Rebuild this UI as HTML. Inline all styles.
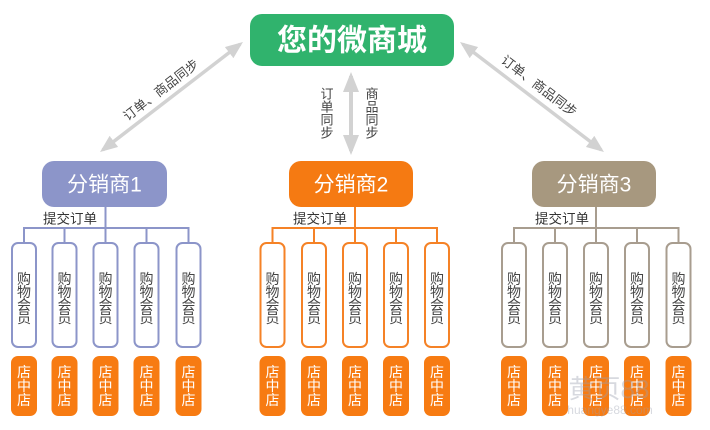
<!DOCTYPE html>
<html><head><meta charset="utf-8">
<style>
html,body{margin:0;padding:0;background:#fff;}
svg{display:block;}
text{font-family:"Liberation Sans","Noto Sans CJK SC",sans-serif;}
</style></head>
<body>
<svg width="710" height="430" viewBox="0 0 710 430" xmlns="http://www.w3.org/2000/svg">
<rect width="710" height="430" fill="#fff"/>
<defs>
<marker id="ah" markerWidth="5" markerHeight="4" refX="4" refY="2" orient="auto-start-reverse" markerUnits="strokeWidth">
<path d="M0,0 L5,2 L0,4 Z" fill="#d2d2d2"/>
</marker>
</defs>

<!-- top box -->
<rect x="250" y="14" width="204" height="52" rx="12" fill="#30b36d"/>
<text x="352" y="41" font-size="30" font-weight="bold" fill="#fff" text-anchor="middle" dominant-baseline="central">您的微商城</text>

<!-- arrows -->
<line x1="351" y1="76" x2="351" y2="151" stroke="#d2d2d2" stroke-width="4" marker-start="url(#ah)" marker-end="url(#ah)"/>
<line x1="240.2" y1="44.1" x2="102.8" y2="149.9" stroke="#d2d2d2" stroke-width="3.5" marker-start="url(#ah)" marker-end="url(#ah)"/>
<line x1="462.8" y1="44.1" x2="601.2" y2="149.9" stroke="#d2d2d2" stroke-width="3.5" marker-start="url(#ah)" marker-end="url(#ah)"/>

<!-- vertical labels -->
<g font-size="13" fill="#444" text-anchor="middle" dominant-baseline="central">
<text x="327" y="94">订</text><text x="327" y="107">单</text><text x="327" y="120">同</text><text x="327" y="133">步</text>
<text x="372" y="94">商</text><text x="372" y="107">品</text><text x="372" y="120">同</text><text x="372" y="133">步</text>
</g>
<text x="161" y="90" font-size="13" fill="#444" text-anchor="middle" dominant-baseline="central" transform="rotate(-37.6 161 90)">订单、商品同步</text>
<text x="539" y="86" font-size="13" fill="#444" text-anchor="middle" dominant-baseline="central" transform="rotate(37.4 539 86)">订单、商品同步</text>

<!-- distributors -->
<rect x="42" y="161" width="125" height="46" rx="12" fill="#8c95c9"/>
<text x="104.5" y="185" font-size="21" fill="#fff" text-anchor="middle" dominant-baseline="central">分销商1</text>
<rect x="289" y="161" width="124" height="46" rx="12" fill="#f57a12"/>
<text x="351" y="185" font-size="21" fill="#fff" text-anchor="middle" dominant-baseline="central">分销商2</text>
<rect x="532" y="161" width="124" height="46" rx="12" fill="#a7987f"/>
<text x="594" y="185" font-size="21" fill="#fff" text-anchor="middle" dominant-baseline="central">分销商3</text>

<!-- submit labels -->
<g font-size="13.5" fill="#333" dominant-baseline="central">
<text x="43" y="219">提交订单</text>
<text x="293" y="219">提交订单</text>
<text x="535" y="219">提交订单</text>
</g>

<!-- connectors group1 -->
<g stroke="#8c95c9" stroke-width="2" fill="none">
<line x1="105.5" y1="207" x2="105.5" y2="228"/>
<line x1="24" y1="228" x2="188.5" y2="228"/>
<line x1="24" y1="227" x2="24" y2="243"/><line x1="64.5" y1="227" x2="64.5" y2="243"/><line x1="105.5" y1="227" x2="105.5" y2="243"/><line x1="146.5" y1="227" x2="146.5" y2="243"/><line x1="188.5" y1="227" x2="188.5" y2="243"/>
<rect x="12" y="243" width="24" height="104" rx="6"/>
<rect x="52.5" y="243" width="24" height="104" rx="6"/>
<rect x="93.5" y="243" width="24" height="104" rx="6"/>
<rect x="134.5" y="243" width="24" height="104" rx="6"/>
<rect x="176.5" y="243" width="24" height="104" rx="6"/>
</g>
<!-- connectors group2 -->
<g stroke="#f58226" stroke-width="2" fill="none">
<line x1="355" y1="207" x2="355" y2="228"/>
<line x1="272.5" y1="228" x2="437" y2="228"/>
<line x1="272.5" y1="227" x2="272.5" y2="243"/><line x1="314" y1="227" x2="314" y2="243"/><line x1="355" y1="227" x2="355" y2="243"/><line x1="396" y1="227" x2="396" y2="243"/><line x1="437" y1="227" x2="437" y2="243"/>
<rect x="260.5" y="243" width="24" height="104" rx="6"/>
<rect x="302" y="243" width="24" height="104" rx="6"/>
<rect x="343" y="243" width="24" height="104" rx="6"/>
<rect x="384" y="243" width="24" height="104" rx="6"/>
<rect x="425" y="243" width="24" height="104" rx="6"/>
</g>
<!-- connectors group3 -->
<g stroke="#a89d8f" stroke-width="2" fill="none">
<line x1="596" y1="207" x2="596" y2="228"/>
<line x1="514" y1="228" x2="678.5" y2="228"/>
<line x1="514" y1="227" x2="514" y2="243"/><line x1="555" y1="227" x2="555" y2="243"/><line x1="596" y1="227" x2="596" y2="243"/><line x1="637" y1="227" x2="637" y2="243"/><line x1="678.5" y1="227" x2="678.5" y2="243"/>
<rect x="502" y="243" width="24" height="104" rx="6"/>
<rect x="543" y="243" width="24" height="104" rx="6"/>
<rect x="584" y="243" width="24" height="104" rx="6"/>
<rect x="625" y="243" width="24" height="104" rx="6"/>
<rect x="666.5" y="243" width="24" height="104" rx="6"/>
</g>

<!-- orange shop boxes -->
<g fill="#f77b12">
<rect x="11" y="356" width="26" height="60" rx="7"/><rect x="51.5" y="356" width="26" height="60" rx="7"/><rect x="92.5" y="356" width="26" height="60" rx="7"/><rect x="133.5" y="356" width="26" height="60" rx="7"/><rect x="175.5" y="356" width="26" height="60" rx="7"/>
<rect x="259.5" y="356" width="26" height="60" rx="7"/><rect x="301" y="356" width="26" height="60" rx="7"/><rect x="342" y="356" width="26" height="60" rx="7"/><rect x="383" y="356" width="26" height="60" rx="7"/><rect x="424" y="356" width="26" height="60" rx="7"/>
<rect x="501" y="356" width="26" height="60" rx="7"/><rect x="542" y="356" width="26" height="60" rx="7"/><rect x="583" y="356" width="26" height="60" rx="7"/><rect x="624" y="356" width="26" height="60" rx="7"/><rect x="665.5" y="356" width="26" height="60" rx="7"/>
</g>

<!-- member text -->
<g font-size="14" fill="#444" text-anchor="middle" dominant-baseline="central">
<g><text x="24" y="279">购</text><text x="24" y="292">物</text><text x="24" y="305">会</text><text x="24" y="318">员</text></g>
<g transform="translate(40.5 0)"><text x="24" y="279">购</text><text x="24" y="292">物</text><text x="24" y="305">会</text><text x="24" y="318">员</text></g>
<g transform="translate(81.5 0)"><text x="24" y="279">购</text><text x="24" y="292">物</text><text x="24" y="305">会</text><text x="24" y="318">员</text></g>
<g transform="translate(122.5 0)"><text x="24" y="279">购</text><text x="24" y="292">物</text><text x="24" y="305">会</text><text x="24" y="318">员</text></g>
<g transform="translate(164.5 0)"><text x="24" y="279">购</text><text x="24" y="292">物</text><text x="24" y="305">会</text><text x="24" y="318">员</text></g>
<g transform="translate(248.5 0)"><text x="24" y="279">购</text><text x="24" y="292">物</text><text x="24" y="305">会</text><text x="24" y="318">员</text></g>
<g transform="translate(290 0)"><text x="24" y="279">购</text><text x="24" y="292">物</text><text x="24" y="305">会</text><text x="24" y="318">员</text></g>
<g transform="translate(331 0)"><text x="24" y="279">购</text><text x="24" y="292">物</text><text x="24" y="305">会</text><text x="24" y="318">员</text></g>
<g transform="translate(372 0)"><text x="24" y="279">购</text><text x="24" y="292">物</text><text x="24" y="305">会</text><text x="24" y="318">员</text></g>
<g transform="translate(413 0)"><text x="24" y="279">购</text><text x="24" y="292">物</text><text x="24" y="305">会</text><text x="24" y="318">员</text></g>
<g transform="translate(490 0)"><text x="24" y="279">购</text><text x="24" y="292">物</text><text x="24" y="305">会</text><text x="24" y="318">员</text></g>
<g transform="translate(531 0)"><text x="24" y="279">购</text><text x="24" y="292">物</text><text x="24" y="305">会</text><text x="24" y="318">员</text></g>
<g transform="translate(572 0)"><text x="24" y="279">购</text><text x="24" y="292">物</text><text x="24" y="305">会</text><text x="24" y="318">员</text></g>
<g transform="translate(613 0)"><text x="24" y="279">购</text><text x="24" y="292">物</text><text x="24" y="305">会</text><text x="24" y="318">员</text></g>
<g transform="translate(654.5 0)"><text x="24" y="279">购</text><text x="24" y="292">物</text><text x="24" y="305">会</text><text x="24" y="318">员</text></g>
</g>

<!-- shop text -->
<g font-size="14" fill="#fff" text-anchor="middle" dominant-baseline="central">
<g><text x="24" y="372">店</text><text x="24" y="386">中</text><text x="24" y="400">店</text></g>
<g transform="translate(40.5 0)"><text x="24" y="372">店</text><text x="24" y="386">中</text><text x="24" y="400">店</text></g>
<g transform="translate(81.5 0)"><text x="24" y="372">店</text><text x="24" y="386">中</text><text x="24" y="400">店</text></g>
<g transform="translate(122.5 0)"><text x="24" y="372">店</text><text x="24" y="386">中</text><text x="24" y="400">店</text></g>
<g transform="translate(164.5 0)"><text x="24" y="372">店</text><text x="24" y="386">中</text><text x="24" y="400">店</text></g>
<g transform="translate(248.5 0)"><text x="24" y="372">店</text><text x="24" y="386">中</text><text x="24" y="400">店</text></g>
<g transform="translate(290 0)"><text x="24" y="372">店</text><text x="24" y="386">中</text><text x="24" y="400">店</text></g>
<g transform="translate(331 0)"><text x="24" y="372">店</text><text x="24" y="386">中</text><text x="24" y="400">店</text></g>
<g transform="translate(372 0)"><text x="24" y="372">店</text><text x="24" y="386">中</text><text x="24" y="400">店</text></g>
<g transform="translate(413 0)"><text x="24" y="372">店</text><text x="24" y="386">中</text><text x="24" y="400">店</text></g>
<g transform="translate(490 0)"><text x="24" y="372">店</text><text x="24" y="386">中</text><text x="24" y="400">店</text></g>
<g transform="translate(531 0)"><text x="24" y="372">店</text><text x="24" y="386">中</text><text x="24" y="400">店</text></g>
<g transform="translate(572 0)"><text x="24" y="372">店</text><text x="24" y="386">中</text><text x="24" y="400">店</text></g>
<g transform="translate(613 0)"><text x="24" y="372">店</text><text x="24" y="386">中</text><text x="24" y="400">店</text></g>
<g transform="translate(654.5 0)"><text x="24" y="372">店</text><text x="24" y="386">中</text><text x="24" y="400">店</text></g>
</g>

<!-- watermark -->
<text x="609" y="389" font-size="26" fill="#9aa0b0" fill-opacity="0.4" text-anchor="middle" dominant-baseline="central">黄页88</text>
<text x="610" y="410" font-size="12" fill="#9aa0b0" fill-opacity="0.4" text-anchor="middle" dominant-baseline="central">huangye88.com</text>
</svg>
</body></html>
